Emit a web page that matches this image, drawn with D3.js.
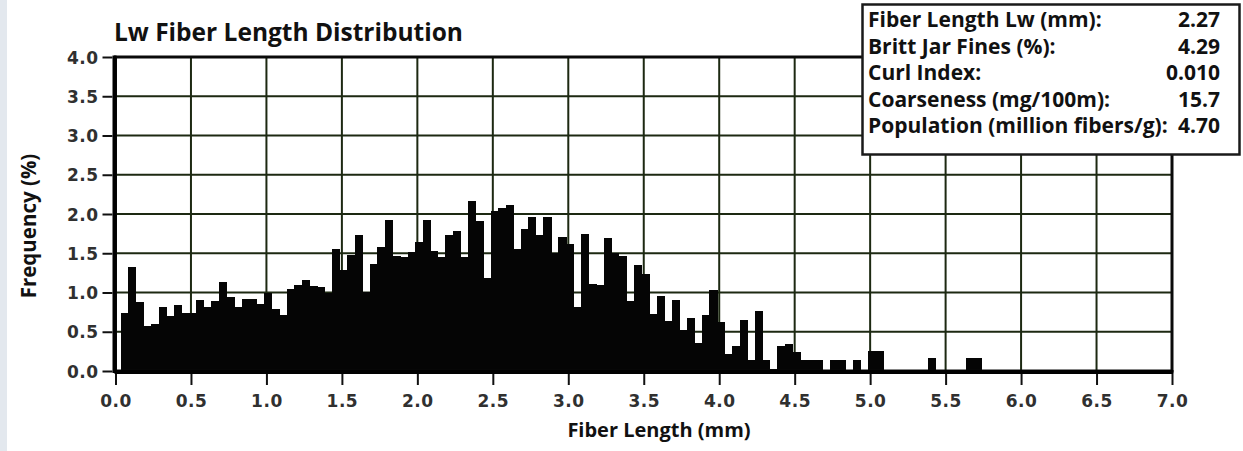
<!DOCTYPE html>
<html>
<head>
<meta charset="utf-8">
<script src="https://cdn.jsdelivr.net/npm/d3@7"></script>
<style>
  body { margin: 0; background: #ffffff; }
</style>
</head>
<body>
<div id="chart"></div>
<script>
let width = 1243;
let height = 451;

// histogram: bins of 0.05 mm left to right
let binStart = 0.035;
let binWidth = 0.05;
let freq = [
  0.74, 1.32, 0.88, 0.57, 0.60, 0.81, 0.70, 0.84, 0.74, 0.74,
  0.91, 0.82, 0.89, 1.13, 0.94, 0.82, 0.92, 0.92, 0.85, 1.00,
  0.79, 0.71, 1.04, 1.10, 1.16, 1.08, 1.07, 0.99, 1.55, 1.29,
  1.48, 1.73, 1.01, 1.36, 1.58, 1.92, 1.46, 1.45, 1.51, 1.64,
  1.92, 1.53, 1.45, 1.73, 1.78, 1.45, 2.17, 1.91, 1.18, 2.04,
  2.08, 2.12, 1.55, 1.81, 1.96, 1.73, 1.96, 1.50, 1.71, 1.62,
  0.81, 1.74, 1.11, 1.09, 1.70, 1.50, 1.46, 0.89, 1.35, 1.24,
  0.73, 0.95, 0.64, 0.90, 0.52, 0.68, 0.36, 0.71, 1.03, 0.62,
  0.22, 0.32, 0.65, 0.14, 0.76, 0.14, 0.03, 0.32, 0.34, 0.24,
  0.14, 0.14, 0.14, 0.00, 0.14, 0.14, 0.00, 0.14, 0.00, 0.26,
  0.26, 0.00, 0.00, 0.00, 0.00, 0.00, 0.00, 0.17, 0.00, 0.00,
  0.00, 0.00, 0.17, 0.17
];

let xTicks = d3.range(0, 7.01, 0.5);
let yTicks = d3.range(0, 4.01, 0.5);

let statLabels = [
  "Fiber Length Lw (mm):",
  "Britt Jar Fines (%):",
  "Curl Index:",
  "Coarseness (mg/100m):",
  "Population (million fibers/g):"
];
let statValues = ["2.27", "4.29", "0.010", "15.7", "4.70"];

let bins = freq.map((v, i) => ({ x0: binStart + i * binWidth, v: v }));

let svg = d3.select("#chart")
  .append("svg")
  .attr("width", width)
  .attr("height", height)
  .style("background-color", "#ffffff");

// scanner edge on the far left
svg.append("rect")
  .attr("x", 0).attr("y", 0)
  .attr("width", 7).attr("height", height)
  .attr("fill", "#e3e8ee");

let xscale = d3.scaleLinear().domain([0, 7]).range([115.5, 1172]);
let yscale = d3.scaleLinear().domain([0, 4]).range([371, 57]);

let gridColor = "#1d2912";

// grid
svg.append("g")
  .selectAll("line")
  .data(xTicks)
  .enter()
  .append("line")
  .attr("x1", d => xscale(d)).attr("x2", d => xscale(d))
  .attr("y1", yscale(4)).attr("y2", yscale(0))
  .attr("stroke", gridColor)
  .attr("stroke-width", 2);

svg.append("g")
  .selectAll("line")
  .data(yTicks)
  .enter()
  .append("line")
  .attr("x1", xscale(0)).attr("x2", xscale(7))
  .attr("y1", d => yscale(d)).attr("y2", d => yscale(d))
  .attr("stroke", gridColor)
  .attr("stroke-width", 2);

// bars
svg.append("g")
  .attr("shape-rendering", "crispEdges")
  .selectAll("rect")
  .data(bins.filter(d => d.v > 0))
  .enter()
  .append("rect")
  .attr("x", d => xscale(d.x0))
  .attr("y", d => yscale(d.v))
  .attr("width", xscale(binWidth) - xscale(0) + 0.6)
  .attr("height", d => yscale(0) - yscale(d.v))
  .attr("fill", "#050505");

// frame
svg.append("rect")
  .attr("x", xscale(0)).attr("y", yscale(4))
  .attr("width", xscale(7) - xscale(0))
  .attr("height", yscale(0) - yscale(4))
  .attr("fill", "none")
  .attr("stroke", "#0a0a0a")
  .attr("stroke-width", 3);

svg.append("line")
  .attr("x1", xscale(0) - 1).attr("x2", xscale(0) - 1)
  .attr("y1", yscale(4) - 1.5).attr("y2", yscale(0) + 2)
  .attr("stroke", "#000").attr("stroke-width", 4);

svg.append("line")
  .attr("x1", xscale(0) - 1).attr("x2", xscale(7) + 1.5)
  .attr("y1", yscale(0) + 1).attr("y2", yscale(0) + 1)
  .attr("stroke", "#000").attr("stroke-width", 4);

// axes
let xAxis = svg.append("g")
  .attr("transform", `translate(0, ${yscale(0) + 3})`)
  .call(d3.axisBottom(xscale).tickValues(xTicks).tickFormat(d3.format(".1f")).tickSize(11).tickPadding(10));

let yAxis = svg.append("g")
  .attr("transform", `translate(${xscale(0) - 3}, 0)`)
  .call(d3.axisLeft(yscale).tickValues(yTicks).tickFormat(d3.format(".1f")).tickSize(10).tickPadding(4));

[xAxis, yAxis].forEach(ax => {
  ax.select(".domain").remove();
  ax.selectAll(".tick line").attr("stroke", "#111").attr("stroke-width", 2);
  ax.selectAll(".tick text")
    .attr("font-family", "DejaVu Sans")
    .attr("font-weight", 700)
    .attr("font-size", 17)
    .attr("letter-spacing", 0.5)
    .attr("fill", "#303030");
});
yAxis.selectAll(".tick text").attr("dy", "0.36em");

// titles
svg.append("text")
  .attr("x", 114)
  .attr("y", 40.5)
  .text("Lw Fiber Length Distribution")
  .attr("font-family", "Open Sans")
  .attr("font-weight", 700)
  .attr("font-size", 24.5)
  .attr("fill", "#111");

svg.append("text")
  .attr("x", 659)
  .attr("y", 437)
  .attr("text-anchor", "middle")
  .text("Fiber Length (mm)")
  .attr("font-family", "Open Sans")
  .attr("font-weight", 700)
  .attr("font-size", 20)
  .attr("fill", "#111");

svg.append("text")
  .attr("transform", `translate(36, 226) rotate(-90)`)
  .attr("text-anchor", "middle")
  .text("Frequency (%)")
  .attr("font-family", "Open Sans")
  .attr("font-weight", 700)
  .attr("font-size", 20.5)
  .attr("fill", "#111");

// stats box
let box = svg.append("g");
box.append("rect")
  .attr("x", 862.5).attr("y", 4.5)
  .attr("width", 377).attr("height", 150)
  .attr("fill", "#ffffff")
  .attr("stroke", "#1a1a1a")
  .attr("stroke-width", 2.5);

let rowY = d3.scaleLinear().domain([0, 4]).range([27.3, 133.3]);

box.selectAll("text.lab")
  .data(statLabels)
  .enter()
  .append("text")
  .attr("class", "lab")
  .attr("x", 868)
  .attr("y", (d, i) => rowY(i))
  .text(d => d)
  .attr("font-family", "Open Sans")
  .attr("font-weight", 700)
  .attr("font-size", 21)
  .attr("fill", "#111");

box.selectAll("text.val")
  .data(statValues)
  .enter()
  .append("text")
  .attr("class", "val")
  .attr("x", 1220)
  .attr("y", (d, i) => rowY(i))
  .attr("text-anchor", "end")
  .text(d => d)
  .attr("font-family", "Open Sans")
  .attr("font-weight", 700)
  .attr("font-size", 21)
  .attr("fill", "#111");
</script>
</body>
</html>
